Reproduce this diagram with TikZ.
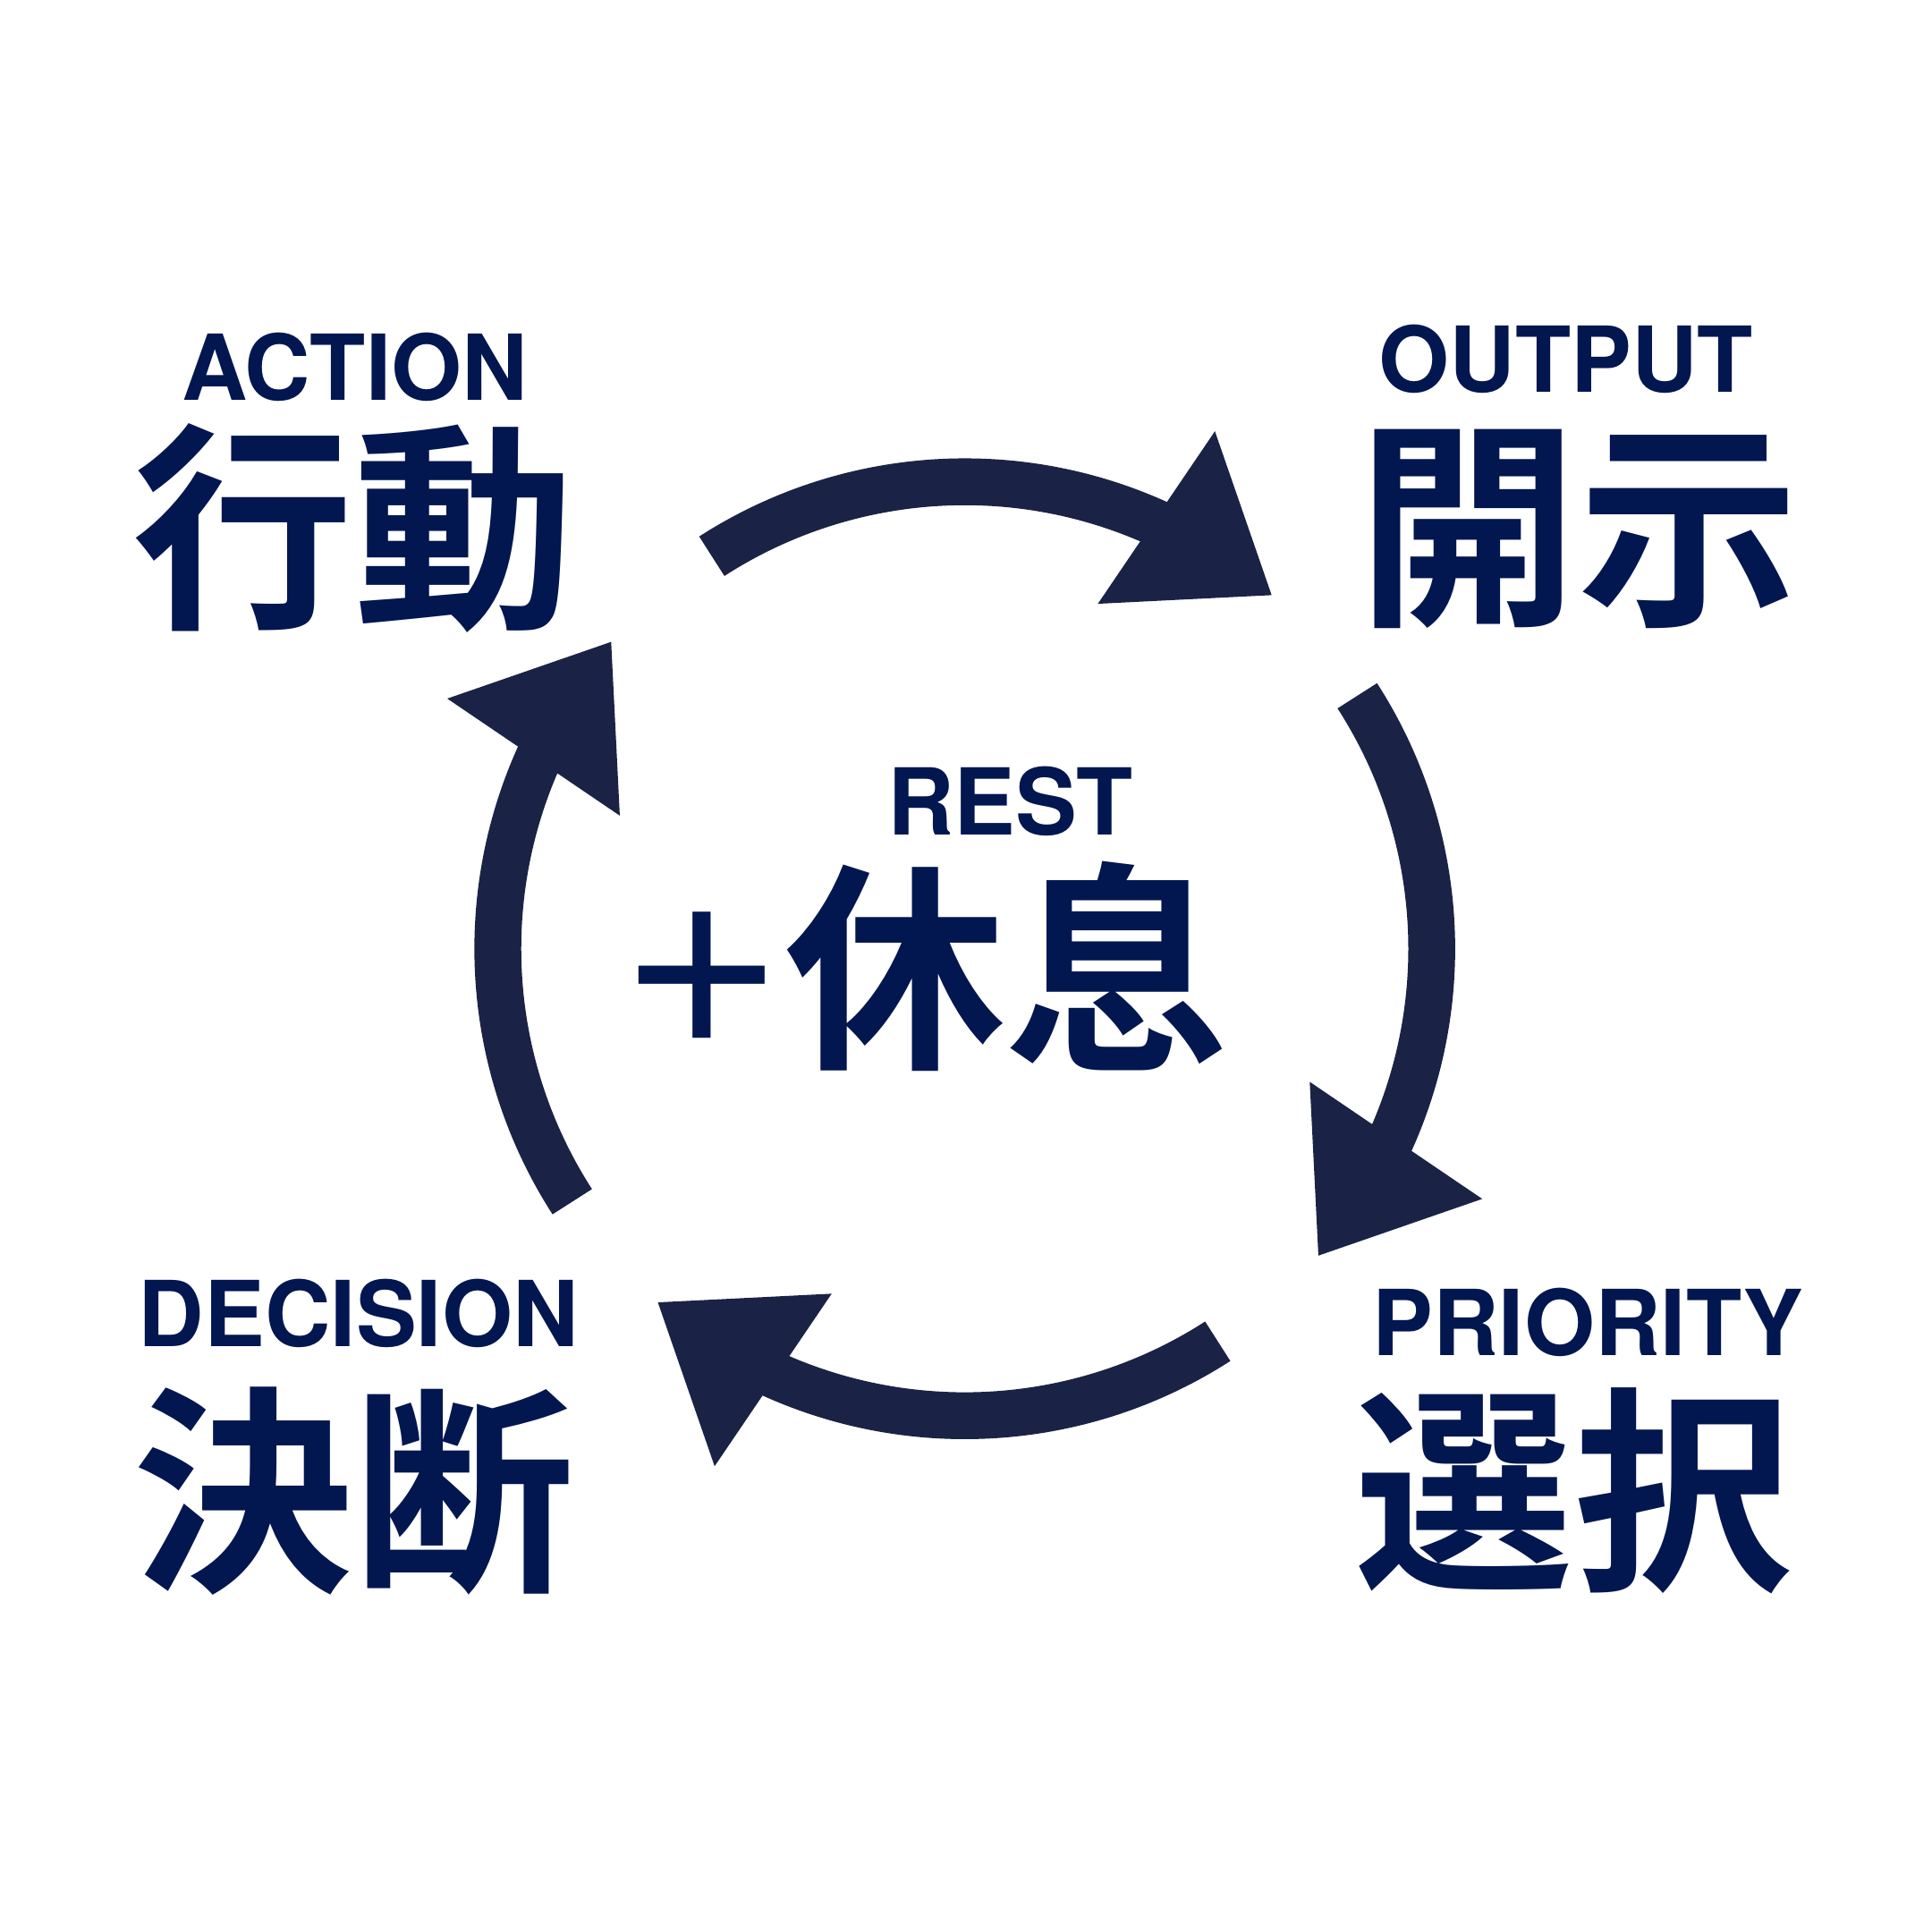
\documentclass[tikz,border=0pt]{standalone}
\usepackage{fontspec}
\setmainfont{TeX Gyre Heros}
\newfontfamily\cjk{Noto Sans CJK JP}[BoldFont={Noto Sans CJK JP Bold}]
\definecolor{txtnavy}{HTML}{021650}
\definecolor{arrnavy}{HTML}{1A2346}
\begin{document}
\begin{tikzpicture}[x=0.01cm,y=0.01cm,
  lat/.style={text=txtnavy,font=\fontsize{21}{21}\selectfont\bfseries,inner sep=0pt,anchor=base},
  kan/.style={text=txtnavy,font=\cjk\bfseries\fontsize{51}{51}\selectfont,inner sep=0pt},
  arrline/.style={draw=arrnavy,line width=0.38cm,line cap=butt},
  arrhead/.style={fill=arrnavy,draw=none}]
\useasboundingbox (0,0) rectangle (1568,1568);
\fill[white] (0,0) rectangle (1568,1568);
\coordinate (C) at (783,798);
\foreach \k in {0,1,2,3}{
  \begin{scope}[shift={(C)},rotate=-90*\k]
    \draw[arrline] (122.8:379) arc[start angle=122.8,end angle=64,radius=379];
    \fill[arrhead] (64.2:466.5) -- (49.05:380) -- (68.9:300.1) -- cycle;
  \end{scope}
}
\node[lat] (actE) at (288,1243) {ACTION};
\node[kan] (actJ) at (287,1139) {行動};
\node[lat] (outE) at (1271,1250) {OUTPUT};
\node[kan] (outJ) at (1281,1139) {開示};
\node[lat] (decE) at (291,475) {DECISION};
\node[kan] (decJ) at (287,358) {決断};
\node[lat] (priE) at (1289,468) {PRIORITY};
\node[kan,font=\cjk\bfseries\fontsize{50.5}{50.5}\selectfont] (priJ) at (1277,358) {選択};
\node[lat,font=\fontsize{21.3}{21.3}\selectfont\bfseries] (restE) at (820,890) {REST};
\node[kan,font=\cjk\bfseries\fontsize{41}{41}\selectfont] (plus) at (569.5,774.5) {＋};
\node[kan] (restJ) at (816,784) {休息};
\end{tikzpicture}
\end{document}
